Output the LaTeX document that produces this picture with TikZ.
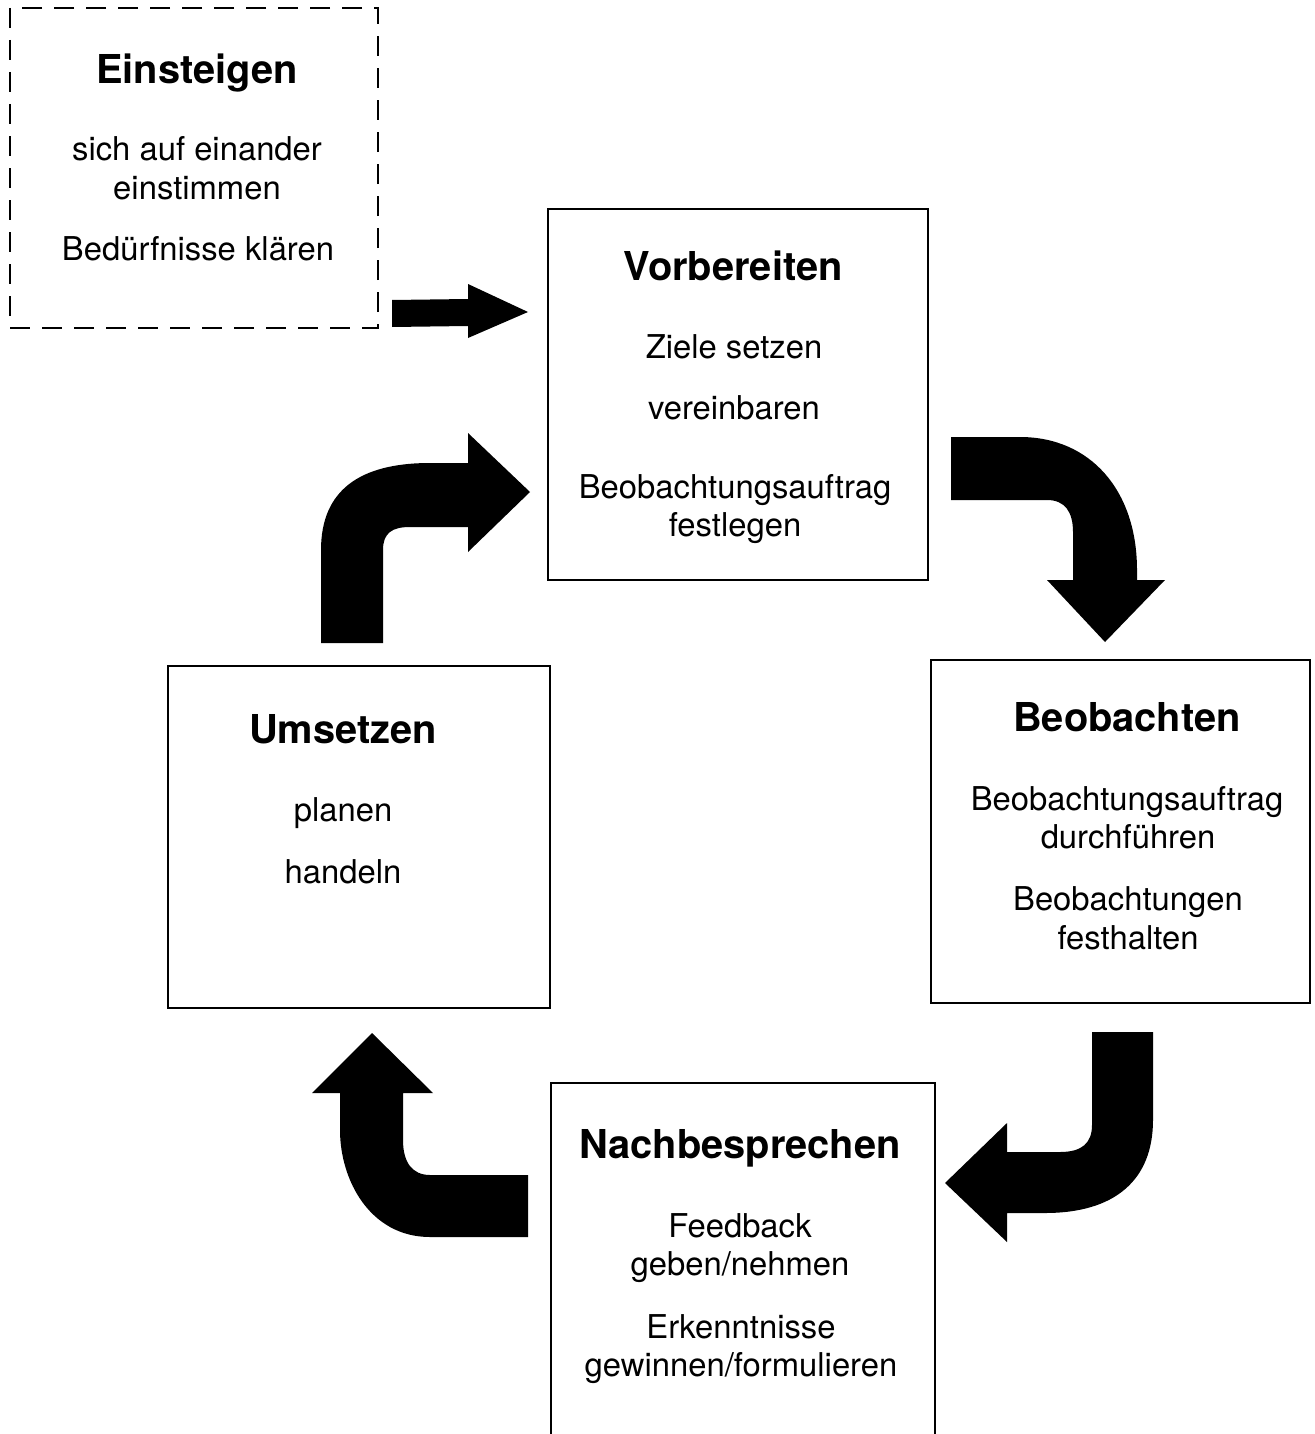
\documentclass[tikz,border=0pt]{standalone}
\usepackage{fontspec}
\setmainfont{TeX Gyre Heros}
\usetikzlibrary{fit}
\tikzset{
  box/.style={draw, line width=0.6pt, inner sep=0pt},
  dbox/.style={draw, line width=0.6pt, inner sep=0pt, dash pattern=on 10pt off 6pt},
  ttl/.style={font=\fontsize{19.9}{24}\selectfont\bfseries, anchor=base, inner sep=0pt},
  txt/.style={font=\fontsize{16.4}{19}\selectfont, anchor=base, inner sep=0pt},
  blk/.style={fill=black, draw=none}
}
\begin{document}
\begin{tikzpicture}[x=0.5pt, y=-0.5pt]
\useasboundingbox (0,0) rectangle (1315,1434);
% boxes
\node[dbox, fit={(10,8) (378,328)}] (ein) {};
\node[box, fit={(548,209) (928,580)}] (vor) {};
\node[box, fit={(931,660) (1310,1003)}] (beo) {};
\node[box, fit={(168,666) (550,1008)}] (ums) {};
\coordinate (nachTL) at (551,1083);
\coordinate (nachTR) at (935,1083);
\draw[line width=0.6pt] (551,1434) -- (nachTL) -- (nachTR) -- (935,1434);
% Einsteigen
\node[ttl] (einT) at (197,84) {Einsteigen};
\node[txt] (einA) at (197,161) {sich auf einander};
\node[txt] (einB) at (197,199) {einstimmen};
\node[txt] (einC) at (198,260) {Bedürfnisse klären};
% Vorbereiten
\node[ttl] (vorT) at (733,280) {Vorbereiten};
\node[txt] (vorA) at (734,358) {Ziele setzen};
\node[txt] (vorB) at (734,419) {vereinbaren};
\node[txt] (vorC) at (735,498) {Beobachtungsauftrag};
\node[txt] (vorD) at (735,536) {festlegen};
% Beobachten
\node[ttl] (beoT) at (1127,731) {Beobachten};
\node[txt] (beoA) at (1127,810) {Beobachtungsauftrag};
\node[txt] (beoB) at (1128,848) {durchführen};
\node[txt] (beoC) at (1128,910) {Beobachtungen};
\node[txt] (beoD) at (1128,949) {festhalten};
% Umsetzen
\node[ttl] (umsT) at (343,743) {Umsetzen};
\node[txt] (umsA) at (343,821) {planen};
\node[txt] (umsB) at (343,883) {handeln};
% Nachbesprechen
\node[ttl] (nacT) at (740,1158) {Nachbesprechen};
\node[txt] (nacA) at (740,1237) {Feedback};
\node[txt] (nacB) at (740,1275) {geben/nehmen};
\node[txt] (nacC) at (741,1338) {Erkenntnisse};
\node[txt] (nacD) at (741,1376) {gewinnen/formulieren};
% straight arrow Einsteigen -> Vorbereiten
\fill[blk] (392,300) -- (468,299) -- (468,284) -- (528,312) -- (468,338) -- (468,326) -- (392,327) -- cycle;
% Umsetzen -> Vorbereiten
\fill[blk] (321,643) -- (321,550) .. controls (321,490) and (360,463) .. (430,463) -- (468,463)
  -- (468,433) -- (530,492) -- (468,552) -- (468,527) -- (410,527)
  .. controls (392,527) and (383,533) .. (383,550) -- (383,643) -- cycle;
% Vorbereiten -> Beobachten
\fill[blk] (951,437) -- (1020,437) .. controls (1090,437) and (1137,490) .. (1137,570) -- (1137,580)
  -- (1165,580) -- (1105,642) -- (1047,580) -- (1073,580) -- (1073,532)
  .. controls (1073,512) and (1065,500) .. (1047,500) -- (951,500) -- cycle;
% Beobachten -> Nachbesprechen
\fill[blk] (1092,1032) -- (1153,1032) -- (1153,1120) .. controls (1153,1180) and (1115,1213) .. (1045,1213)
  -- (1007,1213) -- (1007,1242) -- (945,1183) -- (1007,1123) -- (1007,1152) -- (1060,1152)
  .. controls (1082,1152) and (1092,1143) .. (1092,1125) -- cycle;
% Nachbesprechen -> Umsetzen
\fill[blk] (528,1175) -- (430,1175) .. controls (412,1175) and (403,1162) .. (403,1140) -- (403,1093)
  -- (433,1093) -- (372,1033) -- (312,1093) -- (340,1093) -- (340,1130)
  .. controls (340,1180) and (370,1237) .. (430,1237) -- (528,1237) -- cycle;
\end{tikzpicture}
\end{document}
